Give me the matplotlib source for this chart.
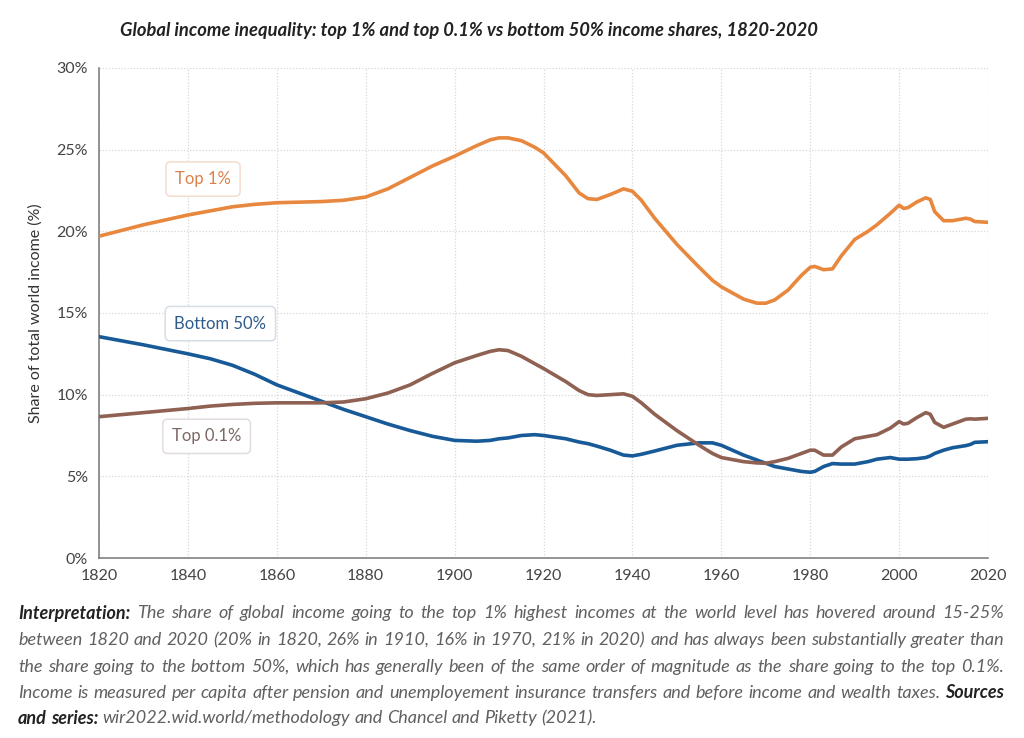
import matplotlib
matplotlib.use("Agg")
import matplotlib.pyplot as plt
from matplotlib.ticker import FuncFormatter

# values (% of world income)
years = [1820, 1830, 1840, 1845, 1850, 1855, 1860, 1870, 1875, 1880, 1885, 1890,
         1895, 1900, 1905, 1908, 1910, 1912, 1915, 1918, 1920, 1925, 1928, 1930,
         1932, 1935, 1938, 1940, 1942, 1945, 1950, 1955, 1958, 1960, 1965, 1968,
         1970, 1972, 1975, 1978, 1980, 1981, 1983, 1985, 1987, 1990, 1993, 1995,
         1998, 2000, 2001, 2002, 2004, 2006, 2007, 2008, 2010, 2012, 2015, 2016,
         2017, 2020]
top1 = [19.7, 20.4, 21.0, 21.25, 21.5, 21.65, 21.75, 21.82, 21.9, 22.1, 22.6, 23.3,
        24.0, 24.6, 25.25, 25.6, 25.72, 25.72, 25.55, 25.15, 24.8, 23.4, 22.35, 22.0,
        21.95, 22.25, 22.6, 22.45, 21.9, 20.8, 19.2, 17.8, 17.0, 16.6, 15.85, 15.6,
        15.6, 15.8, 16.4, 17.3, 17.8, 17.85, 17.65, 17.7, 18.5, 19.5, 20.0, 20.4,
        21.1, 21.6, 21.4, 21.45, 21.8, 22.05, 21.95, 21.2, 20.65, 20.65, 20.8, 20.75,
        20.6, 20.55]
top01 = [8.65, 8.9, 9.15, 9.3, 9.4, 9.47, 9.5, 9.5, 9.55, 9.75, 10.1, 10.6,
         11.3, 11.95, 12.4, 12.65, 12.75, 12.7, 12.35, 11.9, 11.6, 10.8, 10.25, 10.0,
         9.95, 10.0, 10.05, 9.9, 9.5, 8.8, 7.8, 6.9, 6.4, 6.15, 5.9, 5.82,
         5.8, 5.9, 6.1, 6.4, 6.6, 6.6, 6.3, 6.3, 6.8, 7.3, 7.45, 7.55,
         7.95, 8.35, 8.2, 8.25, 8.6, 8.9, 8.8, 8.3, 8.0, 8.2, 8.5, 8.52,
         8.5, 8.55]
bottom50 = [13.55, 13.05, 12.5, 12.2, 11.8, 11.25, 10.6, 9.6, 9.1, 8.65, 8.2, 7.8,
            7.45, 7.2, 7.15, 7.2, 7.3, 7.35, 7.5, 7.55, 7.5, 7.3, 7.1, 7.0,
            6.85, 6.6, 6.3, 6.25, 6.35, 6.55, 6.9, 7.05, 7.05, 6.9, 6.3, 6.0,
            5.8, 5.6, 5.45, 5.3, 5.25, 5.3, 5.6, 5.78, 5.75, 5.75, 5.9, 6.05,
            6.15, 6.05, 6.05, 6.05, 6.08, 6.15, 6.25, 6.4, 6.6, 6.75, 6.88, 6.95,
            7.08, 7.12]

series_labels = ["Top 1%", "Bottom 50%", "Top 0.1%"]
line_colors = ["#E8883E", "#175A97", "#8E6152"]
text_colors = ["#D9824C", "#2D5B8A", "#7B6863"]
edge_colors = ["#F3DDCF", "#D5DEE8", "#E2DCDA"]
label_pos = [(1843.4, 23.2), (1847.3, 14.35), (1844.2, 7.45)]

x_ticks = list(range(1820, 2021, 20))
y_ticks = [0, 5, 10, 15, 20, 25, 30]

title = "Global income inequality: top 1% and top 0.1% vs bottom 50% income shares, 1820-2020"
footer = [
    [("Interpretation:", True), ("The share of global income going to the top 1% highest incomes at the world level has hovered around 15-25%", False)],
    [("between 1820 and 2020 (20% in 1820, 26% in 1910, 16% in 1970, 21% in 2020) and has always been substantially greater than", False)],
    [("the share going to the bottom 50%, which has generally been of the same order of magnitude as the share going to the top 0.1%.", False)],
    [("Income is measured per capita after pension and unemployement insurance transfers and before income and wealth taxes.", False), ("Sources", True)],
    [("and series:", True), ("wir2022.wid.world/methodology and Chancel and Piketty (2021).", False)],
]

plt.rcParams["font.family"] = ["Lato", "DejaVu Sans"]

fig = plt.figure(figsize=(10.24, 7.38), dpi=100)
ax = fig.add_axes([0.0967, 0.2439, 0.8682, 0.664])

for vals, c in zip([top1, bottom50, top01], line_colors):
    ax.plot(years, vals, color=c, lw=2.6, solid_capstyle="round", solid_joinstyle="round", zorder=3)

ax.set_xlim(1820, 2020)
ax.set_ylim(0, 30)
ax.set_xticks(x_ticks)
ax.set_yticks(y_ticks)
ax.yaxis.set_major_formatter(FuncFormatter(lambda v, p: "%d%%" % v))
ax.grid(True, color="#d8d8d8", ls=(0, (1, 1.5)), lw=0.9)
for s in ["top", "right"]:
    ax.spines[s].set_visible(False)
for s in ["left", "bottom"]:
    ax.spines[s].set_color("#777777")
    ax.spines[s].set_linewidth(1.1)
ax.tick_params(length=0, pad=8, labelsize=11.5, labelcolor="#444444")
ax.set_ylabel("Share of total world income (%)", fontsize=11.5, color="#333333", labelpad=10)

for lab, (lx, ly), tc, ec in zip(series_labels, label_pos, text_colors, edge_colors):
    ax.text(lx, ly, lab, color=tc, fontsize=12, ha="center", va="center", zorder=5,
            bbox=dict(boxstyle="round,pad=0.55,rounding_size=0.3", fc="white", ec=ec, lw=1.1))

fig.text(0.117, 0.958, title, fontsize=13.2, fontweight="bold", style="italic",
         color="#222222", ha="left", va="center")

# justified footer paragraph
fig.canvas.draw()
renderer = fig.canvas.get_renderer()
x0, x1 = 18 / 1024, 1004 / 1024
y_lines = [613, 640, 667, 693, 718]


def make_text(x, y, s, bold):
    return fig.text(x, y, s, fontsize=13, style="italic",
                    fontweight="bold" if bold else "normal",
                    color="#222222" if bold else "#606060", ha="left", va="center")


for i, (line, ypx) in enumerate(zip(footer, y_lines)):
    y = 1 - ypx / 738
    words = []
    for chunk, bold in line:
        for w in chunk.split(" "):
            words.append((w, bold))
    arts = [make_text(0, y, w, b) for w, b in words]
    widths = [a.get_window_extent(renderer).width / fig.bbox.width for a in arts]
    total = sum(widths)
    if i < len(footer) - 1 and len(words) > 1:
        gap = (x1 - x0 - total) / (len(words) - 1)
    else:
        sp = make_text(0, y, "a a", False)
        sp2 = make_text(0, y, "aa", False)
        gap = (sp.get_window_extent(renderer).width - sp2.get_window_extent(renderer).width) / fig.bbox.width
        sp.remove()
        sp2.remove()
    x = x0
    for a, w in zip(arts, widths):
        a.set_x(x)
        x += w + gap

fig.savefig("out.png", dpi=100, facecolor="white")
